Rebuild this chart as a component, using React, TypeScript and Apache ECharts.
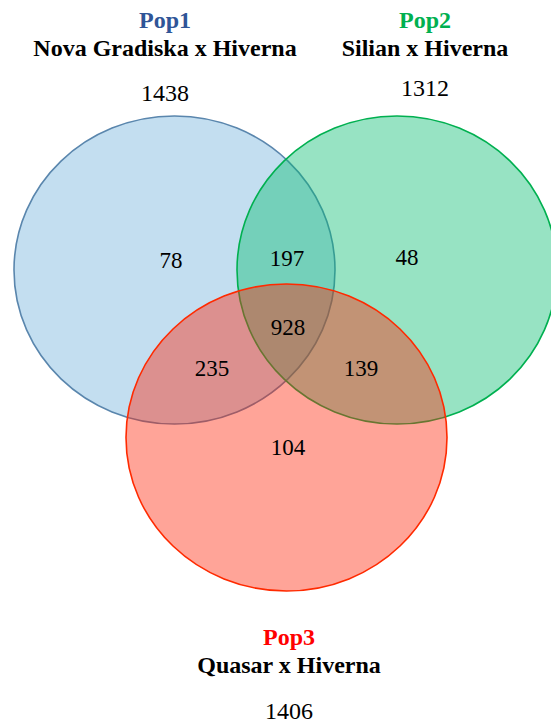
import React, { useEffect, useRef } from "react";
import * as echarts from "echarts";

// ---- data ----
const setNames = ["Pop1", "Pop2", "Pop3"];
const setCrosses = ["Nova Gradiska x Hiverna", "Silian x Hiverna", "Quasar x Hiverna"];
const setTotals = [1438, 1312, 1406];
const regionKeys = ["1", "2", "3", "1&2", "1&3", "2&3", "1&2&3"];
const regionCounts = [78, 48, 104, 197, 235, 139, 928];

// ---- layout (pixel-like coordinate system, 551 x 723) ----
const W = 551;
const H = 723;
const circleLayout = [
  { cx: 174.5, cy: 270, rx: 160.5, ry: 154 },
  { cx: 397, cy: 270, rx: 160, ry: 154 },
  { cx: 286.5, cy: 437.5, rx: 160.5, ry: 153.5 },
];
const circleFill = ["rgba(84,161,212,0.35)", "rgba(7,188,112,0.42)", "rgba(255,35,4,0.41)"];
const circleStroke = ["#5a86ad", "#00b050", "#ff2a00"];
const nameColor = ["#2f5597", "#00b050", "#ff0000"];
const headerPos = [
  { x: 165, yName: 20, yCross: 48, yTotal: 93 },
  { x: 425, yName: 20, yCross: 48, yTotal: 88 },
  { x: 289, yName: 637, yCross: 665, yTotal: 711 },
];
const regionPos: Record<string, [number, number]> = {
  "1": [171, 260],
  "2": [407, 257],
  "3": [288, 447],
  "1&2": [287, 258],
  "1&3": [212, 368],
  "2&3": [361, 368],
  "1&2&3": [288, 327],
};

const SERIF = "'Liberation Serif', 'Times New Roman', serif";

export default function App() {
  const ref = useRef<HTMLDivElement>(null);
  useEffect(() => {
    document.body.style.margin = "0";
    const chart = echarts.init(ref.current!, undefined, { renderer: "svg" });

    const circleData = circleLayout.map((c, i) => [c.cx, c.cy, c.rx, c.ry, i]);

    const textData: any[] = [];
    setNames.forEach((n, i) => {
      const p = headerPos[i];
      textData.push({ value: [p.x, p.yName], t: n, color: nameColor[i], bold: true, size: 24 });
      textData.push({ value: [p.x, p.yCross], t: setCrosses[i], color: "#000", bold: true, size: 24 });
      textData.push({ value: [p.x, p.yTotal], t: String(setTotals[i]), color: "#000", bold: false, size: 24 });
    });
    regionKeys.forEach((k, i) => {
      textData.push({ value: regionPos[k], t: String(regionCounts[i]), color: "#000", bold: false, size: 23 });
    });

    chart.setOption({
      animation: false,
      grid: { left: 0, right: 0, top: 0, bottom: 0 },
      xAxis: { type: "value", min: 0, max: W, show: false },
      yAxis: { type: "value", min: 0, max: H, inverse: true, show: false },
      series: [
        {
          type: "custom",
          coordinateSystem: "cartesian2d",
          data: circleData,
          renderItem: (params: any, api: any) => {
            const c = api.coord([api.value(0), api.value(1)]);
            const s = api.size([api.value(2), api.value(3)]);
            const i = api.value(4);
            return {
              type: "ellipse",
              shape: { cx: c[0], cy: c[1], rx: s[0], ry: s[1] },
              style: { fill: circleFill[i], stroke: circleStroke[i], lineWidth: 1.6 },
            };
          },
          z: 1,
        },
        {
          type: "custom",
          coordinateSystem: "cartesian2d",
          data: textData,
          renderItem: (params: any, api: any) => {
            const d = textData[params.dataIndex];
            const c = api.coord([api.value(0), api.value(1)]);
            return {
              type: "text",
              x: c[0],
              y: c[1],
              style: {
                text: d.t,
                fill: d.color,
                fontSize: d.size,
                fontFamily: SERIF,
                fontWeight: d.bold ? "bold" : "normal",
                align: "center",
                verticalAlign: "middle",
              },
            };
          },
          z: 5,
        },
      ],
    });
    return () => chart.dispose();
  }, []);
  return <div ref={ref} style={{ width: W, height: H }} />;
}
